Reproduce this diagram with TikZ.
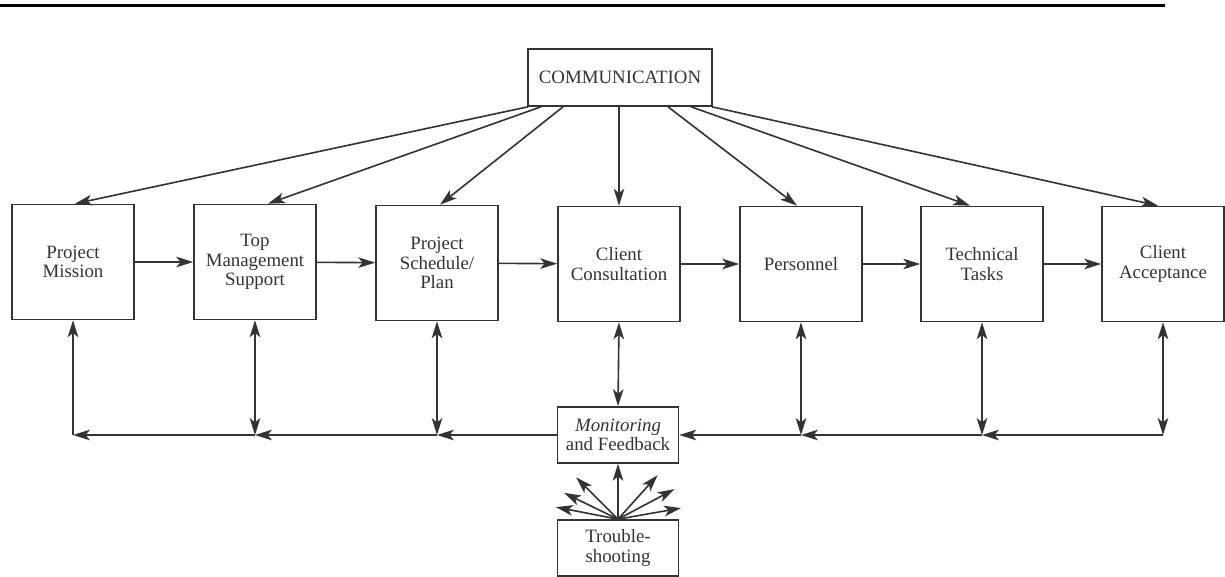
\documentclass[tikz,border=0pt]{standalone}
\usepackage{fontspec}
\setmainfont{Liberation Serif}
\usepackage{tikz}
\usetikzlibrary{arrows.meta,calc}

\begin{document}
\begin{tikzpicture}[x=0.025cm, y=-0.025cm,
        >={Stealth[length=12pt, width=7.5pt, inset=3pt]},
        line width=1.15pt, draw=black!80, text=black!80,
        every node/.style={font=\fontsize{13.4}{13.8}\selectfont, align=center},
        block/.style={draw, line width=1.15pt, inner sep=0pt,
            minimum width=3.05cm, minimum height=2.875cm},
        smallblock/.style={draw, line width=1.15pt, inner sep=0pt,
            minimum width=3.025cm, minimum height=1.4cm}]

        \useasboundingbox (0,0) rectangle (1225,577);

        % Rule
        \draw[line width=2pt, black] (0,5.5) -- (1165,5.5);

        % Boxes
        \node[block, minimum width=4.6cm, minimum height=1.425cm] (comm) at (620,77.5) {COMMUNICATION};
        \node[block] (pm)   at (73,262)   {Project\\Mission};
        \node[block] (tms)  at (255,262)  {Top\\Management\\Support};
        \node[block] (psp)  at (437,263)  {Project\\Schedule/\\Plan};
        \node[block] (cc)   at (619,264)  {Client\\Consultation};
        \node[block] (pers) at (801,264)  {Personnel};
        \node[block] (tt)   at (982,264)  {Technical\\Tasks};
        \node[block] (ca)   at (1163,264) {Client\\Acceptance};
        \node[smallblock] (mon) at (618,435) {\textit{Monitoring}\\and Feedback};
        \node[smallblock] (ts)  at (618,548) {Trouble-\\shooting};

        % Communication to every box
        \foreach \t/\s/\e in {pm/-92/2, tms/-79/13, psp/-57/3, pers/48/-4, tt/71/-12, ca/92/-5}
            \draw[->] ($(comm.south)+(\s,0)$) -- ($(\t.north)+(\e,0)$);
        \draw[->] (comm.south -| cc.north) -- (cc.north);

        % Main sequence
        \draw[->] (pm) -- (tms);
        \draw[->] (tms) -- (psp);
        \draw[->] (psp) -- (cc);
        \draw[->] (cc) -- (pers);
        \draw[->] (pers) -- (tt);
        \draw[->] (tt) -- (ca);

        % Feedback bus
        \coordinate (j1) at (pm.south |- mon.west);
        \coordinate (j2) at (tms.south |- mon.west);
        \coordinate (j3) at (psp.south |- mon.west);
        \coordinate (j5) at (pers.south |- mon.east);
        \coordinate (j6) at (tt.south |- mon.east);
        \coordinate (j7) at (ca.south |- mon.east);

        \draw[->] (mon.west) -- (j3);
        \draw[->] (j3) -- (j2);
        \draw[->] (j2) -- (j1);
        \draw[->] (j1) -- (pm.south);
        \draw[->] (j7) -- (j6);
        \draw[->] (j6) -- (j5);
        \draw[->] (j5) -- (mon.east);

        \draw[<->] (tms.south) -- (j2);
        \draw[<->] (psp.south) -- (j3);
        \draw[<->] (cc.south) -- (mon.north);
        \draw[<->] (pers.south) -- (j5);
        \draw[<->] (tt.south) -- (j6);
        \draw[<->] (ca.south) -- (j7);

        % Troubleshooting fan
        \draw[->] (ts.north) -- (mon.south);
        \foreach \a/\l in {10/1.6, 28/1.6, 48/1.48, 135/1.48, 154/1.5, 169/1.58}
            \draw[->] (ts.north) -- ++(\a:\l cm);

    \end{tikzpicture}
\end{document}
